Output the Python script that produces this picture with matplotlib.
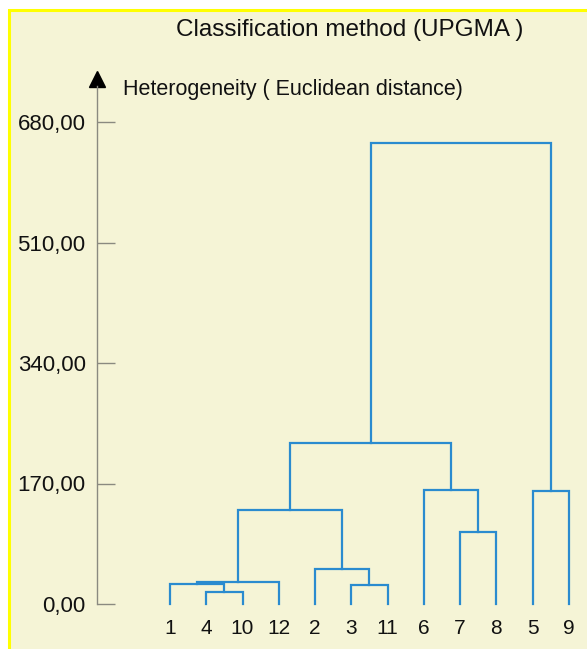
import matplotlib
matplotlib.use("Agg")
import matplotlib.pyplot as plt
from matplotlib.patches import Rectangle

# leaves in display order, and the merges (child ids, height)
leaf_labels = ['1', '4', '10', '12', '2', '3', '11', '6', '7', '8', '5', '9']
merge_left = [1, 5, 0, 14, 4, 8, 15, 10, 7, 18, 21]
merge_right = [2, 6, 12, 3, 13, 9, 16, 11, 17, 20, 19]
merge_height = [17.4, 26.8, 28.2, 30.5, 49.4, 101.6, 133.0, 159.4, 161.0, 226.6, 651.0]

yticks = [0, 170, 340, 510, 680]
ytick_labels = ['0,00', '170,00', '340,00', '510,00', '680,00']

bg = '#f5f4d6'
line_col = '#2a8bcf'
axis_col = '#8a8a80'
plt.rcParams['font.family'] = ['Liberation Sans', 'DejaVu Sans']

W, H = 587, 649
fig = plt.figure(figsize=(W / 100, H / 100), dpi=100)
fig.patch.set_facecolor('white')
fig.patches.append(Rectangle((8.5 / W, -0.1), 1.2, 1.1 - 10.5 / H + 0.0,
                             transform=fig.transFigure, facecolor=bg,
                             edgecolor='#ffff00', linewidth=2.2, zorder=-5))

# axes placed so that leaf 0 sits at x=170px, y=0 at 604px, y=680 at 122px
px_unit = (604 - 122) / 680
left_px = 170 - 2 * 36.26
ax = fig.add_axes([left_px / W, (H - 604) / H, (W - left_px) / W, 680 * px_unit / H])
ax.set_zorder(2)
ax.set_facecolor('none')
ax.set_xlim(-2, (W - 170) / 36.26)
ax.set_ylim(0, 680)

# dendrogram
n = len(leaf_labels)
xpos = {i: float(i) for i in range(n)}
ypos = {i: 0.0 for i in range(n)}
for k, (a, b, h) in enumerate(zip(merge_left, merge_right, merge_height)):
    xa, xb = xpos[a], xpos[b]
    ax.plot([xa, xa, xb, xb], [ypos[a], h, h, ypos[b]], color=line_col,
            lw=1.6, clip_on=False, solid_joinstyle='miter')
    xpos[n + k] = (xa + xb) / 2
    ypos[n + k] = h

for s in ['top', 'right', 'bottom']:
    ax.spines[s].set_visible(False)
ax.spines['left'].set_color(axis_col)
ax.spines['left'].set_linewidth(1.0)
ax.spines['left'].set_bounds(0, (604 - 86) / px_unit)
ax.plot([-2], [(604 - 79) / px_unit], marker='^', color='black', markersize=11,
        clip_on=False)

ax.set_yticks(yticks)
ax.set_yticklabels(ytick_labels, fontsize=16, color='#111111')
ax.tick_params(axis='y', direction='in', length=13, width=1.0, color=axis_col, pad=8.5)
ax.set_xticks(range(n))
ax.set_xticklabels(leaf_labels, fontsize=15, color='#111111')
ax.tick_params(axis='x', length=0, pad=11)

fig.text(350 / W, 1 - 30 / H, 'Classification method (UPGMA )', ha='center',
         va='center', fontsize=17.5, color='#111111')
fig.text(123 / W, 1 - 90 / H, 'Heterogeneity ( Euclidean distance)', ha='left',
         va='center', fontsize=15.5, color='#111111')

fig.savefig('out.png', dpi=100, facecolor=fig.get_facecolor())
